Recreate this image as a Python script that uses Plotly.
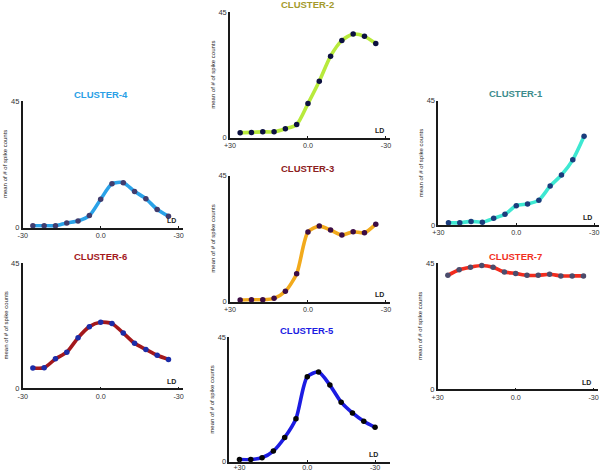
import plotly.graph_objects as go

# ---------------- data ----------------
ld_positions = [-6, -5, -4, -3, -2, -1, 0, 1, 2, 3, 4, 5, 6]

cluster1 = [0.8, 0.8, 1.3, 1.0, 2.4, 3.9, 7.0, 7.6, 9.0, 14.1, 18.1, 23.6, 32.1]
cluster2 = [1.8, 1.9, 2.1, 2.1, 3.2, 4.7, 12.2, 20.2, 29.2, 34.8, 37.1, 36.3, 33.7]
cluster3 = [0.6, 0.7, 0.7, 1.2, 3.7, 10.0, 24.9, 27.0, 25.6, 23.8, 25.0, 24.6, 27.7]
cluster4 = [0.7, 0.7, 0.7, 1.7, 2.4, 4.3, 10.1, 15.6, 16.0, 12.9, 10.3, 6.5, 4.1]
cluster5 = [0.7, 0.7, 1.4, 3.8, 8.7, 15.5, 30.7, 32.4, 27.7, 21.5, 17.6, 14.6, 12.4]
cluster6 = [7.3, 7.4, 10.6, 13.0, 18.2, 22.2, 23.8, 23.3, 19.9, 16.2, 14.0, 11.9, 10.4]
cluster7 = [40.7, 42.7, 43.6, 44.2, 43.6, 41.9, 41.4, 40.7, 40.7, 41.1, 40.5, 40.5, 40.5]

cluster_titles = ["CLUSTER-4", "CLUSTER-2", "CLUSTER-1", "CLUSTER-6",
                  "CLUSTER-3", "CLUSTER-7", "CLUSTER-5"]
left_tick_labels = ["-30", "+30", "+30", "-30", "+30", "+30", "+30"]
right_tick_labels = ["-30", "-30", "-30", "-30", "-30", "-30", "-30"]
mid_tick_label = "0.0"
y_tick_labels = ["0", "45"]
y_title = "mean of # of spike counts"
x_title = "LD"

series = [cluster4, cluster2, cluster1, cluster6, cluster3, cluster7, cluster5]

# ---------------- styling / layout ----------------
W, H = 600, 472
line_colors = ["#2aa2e8", "#b8ea3c", "#3ee8d2", "#a3181c", "#f2aa1c", "#f22c1e", "#1c1ce2"]
marker_colors = ["#403c6e", "#0c1040", "#1a3c7c", "#1c2ca8", "#3c0c44", "#4c4c6c", "#050505"]
title_colors = ["#2a9fe6", "#a49a2c", "#3c8c8c", "#a3181c", "#8c2020", "#f2301e", "#1c1ce2"]
# (y-axis x pixel, top pixel, bottom pixel)
geom = [(22.7, 101, 227.7), (230, 12, 137.7), (438.3, 100.7, 225),
        (22.7, 263.3, 388.3), (230, 175.7, 301.7), (437.7, 263.3, 389.3),
        (229.3, 337.3, 461.5)]
XMIN, XMAX = -6.9, 7.3
PX_PER_UNIT = 11.3

fig = go.Figure()
annotations = []
font_family = "Liberation Sans, Arial, sans-serif"

for i, (vals, (left, top, bottom)) in enumerate(zip(series, geom)):
    n = i + 1
    xa = "x" if n == 1 else f"x{n}"
    ya = "y" if n == 1 else f"y{n}"
    fig.add_trace(go.Scatter(
        x=ld_positions, y=vals, mode="lines+markers",
        line=dict(color=line_colors[i], width=3.6, shape="spline", smoothing=0.7),
        marker=dict(color=marker_colors[i], size=5.5),
        xaxis=xa, yaxis=ya, showlegend=False, hoverinfo="skip",
        cliponaxis=False))
    width_px = (XMAX - XMIN) * PX_PER_UNIT
    xdom = [left / W, min(1.0, (left + width_px) / W)]
    ydom = [(H - bottom) / H, (H - top) / H]
    xmax_eff = XMIN + (xdom[1] * W - left) / PX_PER_UNIT
    if i == 6:
        tickvals = [ld_positions[0], 0, ld_positions[-1]]
        standoff = -2
    else:
        tickvals = [XMIN, 0, 6.9]
        standoff = 0
    ticktext = [left_tick_labels[i], mid_tick_label, right_tick_labels[i]]
    xkey = "xaxis" if n == 1 else f"xaxis{n}"
    ykey = "yaxis" if n == 1 else f"yaxis{n}"
    fig.update_layout(**{
        xkey: dict(domain=xdom, range=[XMIN, xmax_eff], anchor=ya, automargin=False,
                   showgrid=False, zeroline=False, showline=True,
                   linecolor="#1a1a1a", linewidth=1.5,
                   ticks="inside", ticklen=2, tickcolor="#1a1a1a",
                   tickvals=tickvals, ticktext=ticktext, ticklabelstandoff=standoff,
                   tickfont=dict(size=7.2, color="#333", family=font_family),
                   fixedrange=True),
        ykey: dict(domain=ydom, range=[0, 45], anchor=xa, automargin=False,
                   showgrid=False, zeroline=False, showline=True,
                   linecolor="#1a1a1a", linewidth=1.5,
                   ticks="inside", ticklen=2, tickcolor="#1a1a1a",
                   tickvals=[0, 45], ticktext=y_tick_labels,
                   tickfont=dict(size=7.5, color="#333", family=font_family),
                   fixedrange=True),
    })
    # title
    annotations.append(dict(
        text=f"<b>{cluster_titles[i]}</b>", xref="paper", yref="paper",
        x=(left + (0 - XMIN) * PX_PER_UNIT) / W, y=(H - top + 7) / H,
        xanchor="center", yanchor="middle", showarrow=False,
        font=dict(size=9.5, color=title_colors[i], family=font_family)))
    # y title
    annotations.append(dict(
        text=y_title, xref="paper", yref="paper",
        x=(left - 17) / W, y=(H - (top + bottom) / 2) / H,
        xanchor="center", yanchor="middle", textangle=-90, showarrow=False,
        font=dict(size=6, color="#222", family=font_family)))
    # LD label
    annotations.append(dict(
        text=f"<b>{x_title}</b>", xref=xa, yref=ya,
        x=6.3 if i != 6 else 5.9, y=0, yshift=7,
        xanchor="center", yanchor="middle", showarrow=False,
        font=dict(size=7, color="#222", family=font_family)))

fig.update_layout(width=W, height=H, margin=dict(l=0, r=0, t=0, b=0, autoexpand=False),
                  paper_bgcolor="white", plot_bgcolor="white",
                  annotations=annotations)

fig.write_html("out.html", config={"displayModeBar": False},
               post_script="document.body.style.margin='0';document.body.style.padding='0';")
